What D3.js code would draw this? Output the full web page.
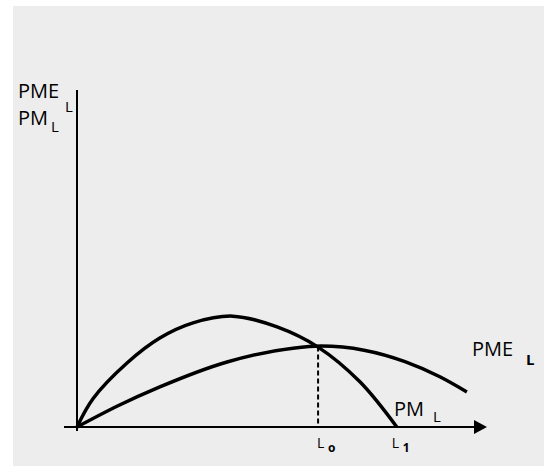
<!DOCTYPE html>
<html><head><meta charset="utf-8">
<script src="https://cdn.jsdelivr.net/npm/d3@7"></script>
<style>html,body{margin:0;padding:0;background:#fff;}svg{display:block;}text{font-family:"Open Sans","Noto Sans",sans-serif;fill:#000;}</style>
</head><body>
<script>
// Data (arbitrary units: labour L on x, product on y)
const pmL_x  = [0, 3.9, 12.2, 20.2, 28.3, 38.0, 48.8, 58.8, 69.0, 78.0];
const pmL_y  = [0, 8.4, 19.0, 26.4, 30.9, 32.9, 29.7, 23.7, 13.4, 0];
const pmeL_x = [0, 10.0, 20.2, 36.6, 52.7, 59.5, 70.0, 80.0, 88.5, 95.1];
const pmeL_y = [0, 6.3, 11.9, 19.3, 23.4, 24.0, 22.8, 19.4, 14.9, 10.4];
const tickL = [{v: 58.8, main: "L", sub: "o"}, {v: 77.0, main: "L", sub: "1"}];
const L0 = 58.8, L0_y = 23.9;

const W = 544, H = 466;
const svg = d3.select("body").append("svg").attr("width", W).attr("height", H);
svg.append("rect").attr("x", 13).attr("y", 6).attr("width", W - 13).attr("height", H - 6).attr("fill", "#ededed");

const x = d3.scaleLinear().domain([0, 100]).range([77, 487]);
const y = d3.scaleLinear().domain([0, 100]).range([427, 90]);

// axes
svg.append("line").attr("x1", 64).attr("x2", 476).attr("y1", y(0)).attr("y2", y(0)).attr("stroke", "#000").attr("stroke-width", 2);
svg.append("path").attr("d", `M${x(100)},${y(0)} L${x(100)-13},${y(0)-7} L${x(100)-13},${y(0)+7} Z`).attr("fill", "#000");
svg.append("line").attr("x1", x(0)).attr("x2", x(0)).attr("y1", y(100)).attr("y2", 431).attr("stroke", "#000").attr("stroke-width", 2);

const linePM = d3.line().x(d => x(d[0])).y(d => y(d[1])).curve(d3.curveCatmullRom.alpha(0.5));
const linePME = d3.line().x(d => x(d[0])).y(d => y(d[1])).curve(d3.curveMonotoneX);
svg.append("path").datum(pmL_x.map((v, i) => [v, pmL_y[i]])).attr("d", linePM)
  .attr("fill", "none").attr("stroke", "#000").attr("stroke-width", 3.5).attr("stroke-linejoin", "round");
svg.append("path").datum(pmeL_x.map((v, i) => [v, pmeL_y[i]])).attr("d", linePME)
  .attr("fill", "none").attr("stroke", "#000").attr("stroke-width", 3.5).attr("stroke-linejoin", "round");

// dashed line at L0
svg.append("line").attr("x1", x(L0)).attr("x2", x(L0)).attr("y1", y(L0_y)).attr("y2", y(0))
  .attr("stroke", "#000").attr("stroke-width", 2).attr("stroke-dasharray", "5,3");

// tick labels
tickL.forEach(t => {
  svg.append("text").attr("x", x(t.v) - 1).attr("y", 448).attr("font-size", 14).text(t.main);
  svg.append("text").attr("x", x(t.v) + 10).attr("y", 452).attr("font-size", 12).attr("font-weight", "bold").text(t.sub);
});

function label(tx, ty, size, str, weight) {
  svg.append("text").attr("x", tx).attr("y", ty).attr("font-size", size)
    .attr("font-weight", weight || "normal").text(str);
}
// Y axis label
label(18, 98, 20, "PME");
label(65, 112, 15, "L");
label(18, 125, 20, "PM");
label(51, 132, 15, "L");
// curve labels
label(472, 356, 20, "PME");
label(526, 365, 15, "L", "bold");
label(394, 416, 20, "PM");
label(433, 422, 15, "L");
</script>
</body></html>
